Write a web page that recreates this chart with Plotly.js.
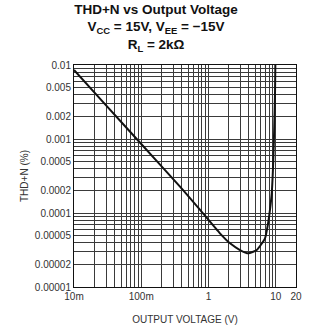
<!DOCTYPE html>
<html>
<head>
<meta charset="utf-8">
<script src="https://cdn.plot.ly/plotly-3.0.1.min.js"></script>
<style>html,body{margin:0;padding:0;background:#fff;}#chart{width:312px;height:330px;}</style>
</head>
<body>
<div id="chart"></div>
<script>
// Data
const voltage = [0.01, 0.03, 0.1, 0.377, 0.75, 1.48, 2.09, 2.94, 3.91, 5.21, 6.92, 7.6, 8.2, 8.71, 9.2, 9.5, 9.75, 9.86];
const thdn    = [0.00855, 0.00285, 0.000855, 0.000227, 0.000110, 0.0000531, 0.0000389, 0.0000316, 0.0000285, 0.0000316, 0.0000455, 0.000068, 0.00011, 0.000184, 0.00052, 0.00148, 0.0042, 0.01];

const xTickVals = [0.01,0.02,0.03,0.04,0.05,0.06,0.07,0.08,0.09,0.1,0.2,0.3,0.4,0.5,0.6,0.7,0.8,0.9,1,2,3,4,5,6,7,8,9,10,20];
const xTickText = ['10m','','','','','','','','','100m','','','','','','','','','1','','','','','','','','','10','20'];
const yTickVals = [1e-5,2e-5,3e-5,4e-5,5e-5,6e-5,7e-5,8e-5,9e-5,1e-4,2e-4,3e-4,4e-4,5e-4,6e-4,7e-4,8e-4,9e-4,1e-3,2e-3,3e-3,4e-3,5e-3,6e-3,7e-3,8e-3,9e-3,1e-2];
const yTickText = ['0.00001','0.00002','','','0.00005','','','','','0.0001','0.0002','','','0.0005','','','','','0.001','0.002','','','0.005','','','','','0.01'];

const trace = {
  x: voltage, y: thdn, type: 'scatter', mode: 'lines',
  line: {color: '#111', width: 2, shape: 'spline', smoothing: 0.5},
  hoverinfo: 'skip'
};

const layout = {
  width: 312, height: 330,
  margin: {l: 74, r: 16, t: 65, b: 43},
  paper_bgcolor: '#fff', plot_bgcolor: '#fff',
  showlegend: false,
  font: {family: 'Liberation Sans, Arial, sans-serif', color: '#222'},
  title: {
    text: '<b>THD+N vs Output Voltage</b><br><b>V<sub>CC</sub> = 15V, V<sub>EE</sub> = \u221215V</b><br><b>R<sub>L</sub> = 2k\u03A9</b>',
    font: {size: 13.5, color: '#111', family: 'Liberation Sans, Arial, sans-serif'},
    x: 0.5, xanchor: 'center', y: 0.958, yanchor: 'top'
  },
  xaxis: {
    type: 'log', range: [Math.log10(0.01), Math.log10(20)],
    tickmode: 'array', tickvals: xTickVals, ticktext: xTickText,
    showgrid: true, gridcolor: '#3a3a3a', gridwidth: 1,
    showline: true, linecolor: '#111', linewidth: 1, mirror: true,
    ticks: '', tickfont: {size: 10, color: '#333'},
    zeroline: false,
    title: {text: 'OUTPUT VOLTAGE (V)', font: {size: 10, color: '#333'}, standoff: 14}
  },
  yaxis: {
    type: 'log', range: [-5, -2],
    tickmode: 'array', tickvals: yTickVals, ticktext: yTickText,
    showgrid: true, gridcolor: '#3a3a3a', gridwidth: 1,
    showline: true, linecolor: '#111', linewidth: 1, mirror: true,
    ticks: '', tickfont: {size: 10, color: '#333'},
    zeroline: false,
    title: {text: 'THD+N (%)', font: {size: 10, color: '#333'}, standoff: 4}
  }
};

Plotly.newPlot('chart', [trace], layout, {displayModeBar: false, staticPlot: true});
</script>
</body>
</html>
